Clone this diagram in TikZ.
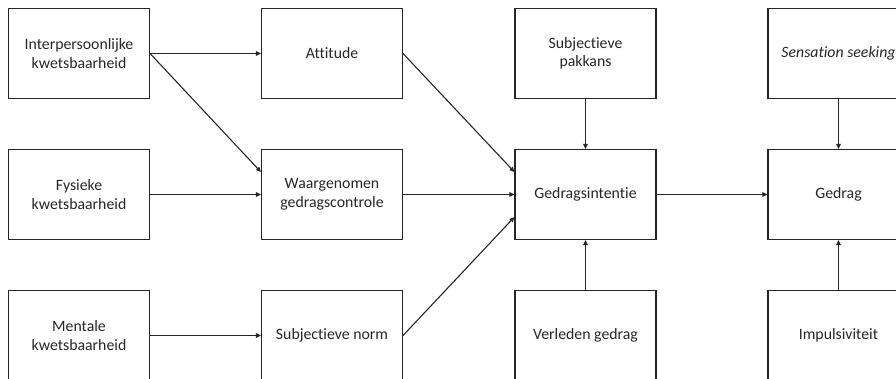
\documentclass[tikz,border=0pt]{standalone}
\usepackage{fontspec}
\setmainfont{Carlito}[Ligatures={NoCommon}]
\usetikzlibrary{arrows.meta}
\begin{document}
\begin{tikzpicture}[x=1pt,y=-1pt,
  box/.style={draw=black!85, line width=1.1pt, minimum width=141pt, minimum height=90pt,
    inner sep=0pt, align=center, text=black!85, font=\fontsize{15.8}{18.5}\selectfont},
  arr/.style={draw=black!85, line width=1.1pt, -{Triangle[length=5pt,width=4.5pt]}}]
\useasboundingbox (0,0) rectangle (896,378);
\clip (0,0) rectangle (896,378);
\node[box] (ik) at (79,53.5) {Interpersoonlijke\\kwetsbaarheid};
\node[box] (fk) at (79,194.5) {Fysieke\\kwetsbaarheid};
\node[box] (mk) at (79,335.5) {Mentale\\kwetsbaarheid};
\node[box] (at) at (332,53.5) {Attitude};
\node[box] (wg) at (332,194.5) {Waargenomen\\gedragscontrole};
\node[box] (sn) at (332,335.5) {Subjectieve norm};
\node[box] (sp) at (585.5,53.5) {Subjectieve\\pakkans};
\node[box] (gi) at (585.5,194.5) {Gedragsintentie};
\node[box] (vg) at (585.5,335.5) {Verleden gedrag};
\node[box] (ss) at (838.5,53.5) {\itshape Sensation seeking};
\node[box] (gd) at (838.5,194.5) {Gedrag};
\node[box] (im) at (838.5,335.5) {Impulsiviteit};
\draw[arr] (ik.east) -- (at.west);
\draw[arr] (ik.east) -- ([yshift=22.5pt]wg.west);
\draw[arr] (fk.east) -- (wg.west);
\draw[arr] (mk.east) -- (sn.west);
\draw[arr] (at.east) -- ([yshift=22.5pt]gi.west);
\draw[arr] (wg.east) -- (gi.west);
\draw[arr] (sn.east) -- ([yshift=-22.5pt]gi.west);
\draw[arr] (sp.south) -- (gi.north);
\draw[arr] (vg.north) -- (gi.south);
\draw[arr] (gi.east) -- (gd.west);
\draw[arr] (ss.south) -- (gd.north);
\draw[arr] (im.north) -- (gd.south);
\end{tikzpicture}
\end{document}
